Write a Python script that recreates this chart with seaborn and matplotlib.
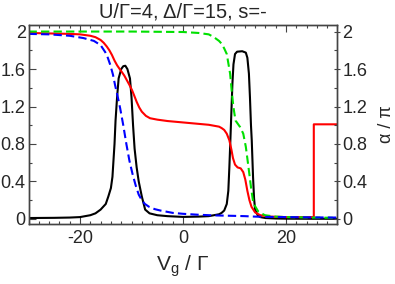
import numpy as np
import pandas as pd
import matplotlib
matplotlib.use("Agg")
from matplotlib import pyplot as plt
from matplotlib.ticker import MultipleLocator
import seaborn as sns

# чёрная кривая (сплошная)
vg_black = [-30, -25, -22, -20, -18, -17, -16, -15, -14.5, -14, -13.7, -13.3, -13.1, -12.8, -12.5,
            -12, -11.6, -11.2, -10.8, -10.3, -10, -9.7, -9.4, -9, -8.6, -8, -7.35, -6.5, -5, -3,
            0, 3, 5, 6, 7, 7.5, 8, 8.5, 8.8, 9.0, 9.2, 9.4, 9.6, 9.8, 10.1, 10.5, 11.5, 12.2,
            12.5, 12.8, 13.0, 13.2, 13.35, 13.6, 13.8, 14.0, 14.5, 15, 16, 18, 20, 25, 30]
g_black = [0.01, 0.012, 0.015, 0.02, 0.04, 0.06, 0.1, 0.16, 0.24, 0.33, 0.45, 0.8, 1.05, 1.3, 1.5,
           1.6, 1.63, 1.635, 1.6, 1.5, 1.3, 1.0, 0.75, 0.55, 0.4, 0.24, 0.1, 0.06, 0.04, 0.03,
           0.022, 0.025, 0.03, 0.04, 0.05, 0.065, 0.09, 0.16, 0.3, 0.55, 0.84, 1.15, 1.45, 1.65, 1.76, 1.785, 1.79, 1.775,
           1.72, 1.55, 1.3, 1.0, 0.84, 0.45, 0.22, 0.1, 0.04, 0.02, 0.01, 0.005, 0.003, 0.002, 0.002]

# красная кривая (сплошная, со скачком у 25.4)
vg_red = [-30, -26, -22, -20, -18, -17, -16, -15.4, -14.8, -14.3, -13.8, -13.3, -12.8, -12.3, -11.9,
          -11.4, -10.9, -10.4, -9.9, -9.5, -9.0, -8.5, -8.0, -7.2, -6.4, -5, -3, 0, 3, 5, 7, 7.5,
          8, 8.5, 9, 9.4, 9.7, 10.1, 10.6, 11.2, 11.7, 12.1, 12.5, 12.9, 13.3, 14, 15, 17, 20,
          25.4, 25.4, 30]
a_red = [1.985, 1.98, 1.975, 1.97, 1.955, 1.94, 1.91, 1.88, 1.84, 1.80, 1.75, 1.69, 1.64, 1.60, 1.57,
         1.53, 1.48, 1.43, 1.375, 1.32, 1.25, 1.19, 1.145, 1.10, 1.075, 1.06, 1.045, 1.03, 1.015, 1.005, 0.985, 0.97,
         0.95, 0.91, 0.84, 0.74, 0.65, 0.58, 0.55, 0.54, 0.5, 0.42, 0.3, 0.2, 0.13, 0.07, 0.04, 0.025, 0.02,
         0.02, 1.01, 1.01]

# синяя пунктирная
vg_blue = [-30, -26, -22, -19.3, -17.3, -16, -15.1, -14.6, -14.1, -13.6, -13.2, -12.7, -12.2, -11.6,
           -11.0, -10.4, -9.8, -9.2, -8.6, -8.0, -7.4, -6.6, -5.5, -4.4, -2, 0, 3, 6, 10, 12, 14, 16,
           20, 25, 30]
a_blue = [1.975, 1.97, 1.955, 1.93, 1.90, 1.855, 1.78, 1.72, 1.64, 1.54, 1.43, 1.31, 1.18, 1.0,
          0.8, 0.62, 0.48, 0.36, 0.26, 0.2, 0.16, 0.13, 0.105, 0.09, 0.065, 0.055, 0.045, 0.038, 0.033, 0.03, 0.025, 0.022,
          0.02, 0.017, 0.015]

# зелёная пунктирная
vg_green = [-30, -10, 0, 3, 5, 6, 7, 7.5, 8, 8.5, 9.15, 9.45, 9.8, 10.2, 11.1, 11.7, 12.2, 12.7,
            13.2, 13.65, 14.6, 15.9, 18, 20, 25, 30]
a_green = [2.0, 2.0, 1.995, 1.985, 1.97, 1.94, 1.9, 1.87, 1.82, 1.76, 1.55, 1.37, 1.19, 1.05, 0.98, 0.91, 0.77, 0.56,
           0.34, 0.17, 0.08, 0.04, 0.025, 0.02, 0.015, 0.012]

y_ticks = [0, 0.4, 0.8, 1.2, 1.6, 2]
y_ticklabels = ["0", "0.4", "0.8", "1.2", "1.6", "2"]
x_ticks = [-20, 0, 20]

sns.set_style("ticks")
plt.rcParams['font.family'] = ['Liberation Sans', 'DejaVu Sans']
plt.rcParams['mathtext.fontset'] = 'custom'
plt.rcParams['mathtext.rm'] = 'Liberation Sans'
plt.rcParams['mathtext.it'] = 'Liberation Sans:italic'

fig = plt.figure(figsize=(3.95, 2.84), dpi=100)
ax = fig.add_axes([0.0722, 0.2102, 0.7822, 0.7028])

lw = 1.5
sns.lineplot(x=vg_black, y=g_black, color="black", lw=lw, estimator=None, sort=False, ax=ax)
sns.lineplot(x=vg_red, y=a_red, color="#ff0000", lw=lw, estimator=None, sort=False, ax=ax)
sns.lineplot(x=vg_green, y=a_green, color="#00e000", lw=lw, estimator=None, sort=False,
             ax=ax).lines[-1].set_dashes((4, 2))
sns.lineplot(x=vg_blue, y=a_blue, color="#0000ff", lw=lw, estimator=None, sort=False,
             ax=ax).lines[-1].set_dashes((4, 2))

ax.set_xlim(-30, 30)
ax.set_ylim(-0.057, 2.073)
ax.set_xticks(x_ticks)
ax.set_xticklabels([str(t) for t in x_ticks])
ax.xaxis.set_minor_locator(MultipleLocator(2))
ax.set_yticks(y_ticks)
ax.set_yticklabels(y_ticklabels)
ax.yaxis.set_minor_locator(MultipleLocator(0.2))
ax.tick_params(axis='both', which='major', direction='in', length=5, width=0.8,
               top=True, right=False, labelsize=13, pad=2, color='#444444')
ax.tick_params(axis='both', which='minor', direction='in', length=2.5, width=0.8,
               top=True, right=False, color='#444444')
ax.tick_params(axis='x', which='major', pad=4)
for s in ax.spines.values():
    s.set_color('#444444')
    s.set_linewidth(1.0)

ax2 = ax.twinx()
ax2.set_ylim(ax.get_ylim())
ax2.set_yticks(y_ticks)
ax2.set_yticklabels(y_ticklabels)
ax2.yaxis.set_minor_locator(MultipleLocator(0.2))
ax2.tick_params(axis='y', which='major', direction='inout', length=5, width=0.8,
                labelsize=13, pad=1, color='#444444')
ax2.tick_params(axis='y', which='minor', direction='in', length=2.5, width=0.8, color='#444444')
for s in ax2.spines.values():
    s.set_color('#444444')
    s.set_linewidth(1.0)
ax2.set_ylabel("α / π", fontsize=13, labelpad=8)

ax.set_xlabel(r"V$_{\mathrm{g}}$ / Γ", fontsize=15, labelpad=5)
ax.set_ylabel("")
ax.set_title("U/Γ=4, Δ/Γ=15, s=-", fontsize=14.5, pad=5)

fig.savefig("out.png", dpi=100)
